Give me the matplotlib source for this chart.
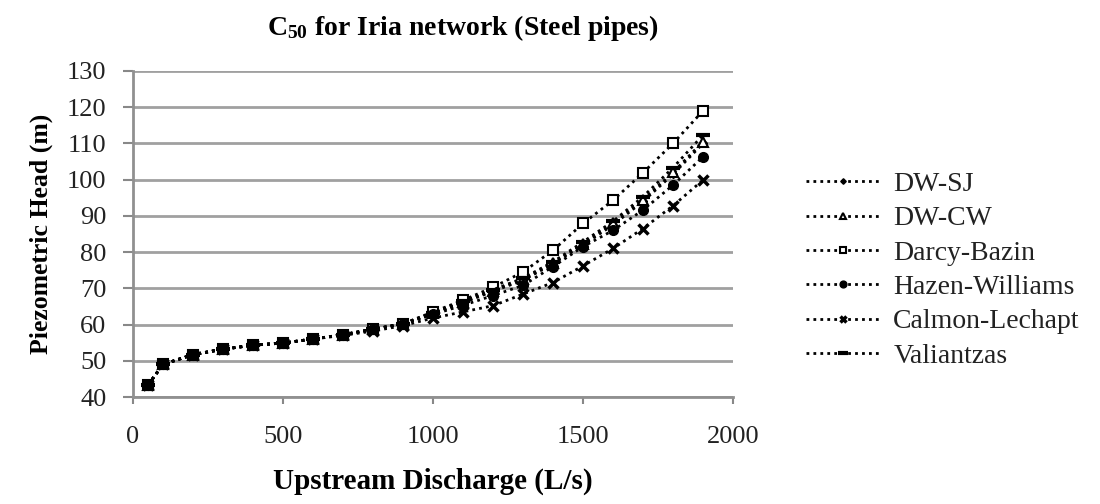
import matplotlib
matplotlib.use("Agg")
import matplotlib.pyplot as plt

discharge = [50, 100, 200, 300, 400, 500, 600, 700, 800, 900,
             1000, 1100, 1200, 1300, 1400, 1500, 1600, 1700, 1800, 1900]
common = [43.3, 49.0, 51.7, 53.2, 54.3, 54.9, 56.0, 57.2, 58.7, 60.2]

dw_sj = common + [63.0, 66.0, 69.2, 72.2, 76.8, 82.0, 87.5, 94.0, 101.5, 110.0]
dw_cw = common + [63.1, 66.2, 69.4, 72.5, 77.0, 82.3, 88.0, 94.5, 102.0, 110.5]
darcy_bazin = common + [63.5, 66.7, 70.3, 74.5, 80.5, 87.9, 94.3, 101.9, 110.0, 119.0]
hazen_williams = common + [62.8, 65.3, 68.0, 70.8, 76.0, 81.5, 86.0, 91.6, 98.5, 106.3]
calmon_lechapt = [43.3, 49.0, 51.7, 53.2, 54.3, 54.9, 56.0, 57.0, 58.2, 59.7,
                  61.8, 63.5, 65.2, 68.4, 71.6, 76.2, 81.0, 86.5, 92.8, 99.9]
valiantzas = common + [63.3, 66.4, 69.6, 72.8, 77.3, 82.8, 88.5, 95.3, 103.3, 112.3]

series_names = ["DW-SJ", "DW-CW", "Darcy-Bazin", "Hazen-Williams", "Calmon-Lechapt", "Valiantzas"]
series_values = [dw_sj, dw_cw, darcy_bazin, hazen_williams, calmon_lechapt, valiantzas]

x_ticks = [0, 500, 1000, 1500, 2000]
y_ticks = [40, 50, 60, 70, 80, 90, 100, 110, 120, 130]

plt.rcParams['font.family'] = ['Liberation Serif', 'DejaVu Serif']
plt.rcParams['mathtext.fontset'] = 'custom'
plt.rcParams['mathtext.rm'] = 'Liberation Serif'
plt.rcParams['mathtext.bf'] = 'Liberation Serif:bold'
plt.rcParams['mathtext.it'] = 'Liberation Serif:italic'

fig = plt.figure(figsize=(11, 5.04), dpi=100)
ax = fig.add_axes([133/1100, 1-397/504, 600/1100, 326/504])

styles = [
    dict(marker='D', markersize=4, markerfacecolor='black', markeredgecolor='black'),
    dict(marker='^', markersize=7, markerfacecolor='white', markeredgecolor='black', markeredgewidth=1.5),
    dict(marker='s', markersize=7, markerfacecolor='white', markeredgecolor='black', markeredgewidth=1.5),
    dict(marker='o', markersize=7, markerfacecolor='black', markeredgecolor='black'),
    dict(marker='x', markersize=7, markeredgecolor='black', markeredgewidth=2.5),
    dict(marker='_', markersize=10, markeredgecolor='black', markeredgewidth=3),
]

for name, vals, st in zip(series_names, series_values, styles):
    ax.plot(discharge, vals, linestyle=(0, (1, 1.5)), linewidth=2, color='black', label=name, **st)

ax.set_xlim(0, 2000)
ax.set_ylim(40, 130)
ax.set_xticks(x_ticks)
ax.set_yticks(y_ticks)
ax.tick_params(axis='both', labelsize=19, colors='#888888', labelcolor='#222222', width=1.5)
ax.tick_params(axis='y', length=7, pad=12)
ax.tick_params(axis='x', length=5, pad=16)
ax.yaxis.grid(True, color='#a0a0a0', linewidth=2)
ax.set_axisbelow(True)
for s in ['top', 'right']:
    ax.spines[s].set_visible(False)
for s in ['left', 'bottom']:
    ax.spines[s].set_color('#909090')
    ax.spines[s].set_linewidth(2)

ax.set_xlabel("Upstream Discharge (L/s)", fontsize=21, fontweight='bold', labelpad=14)
ax.set_ylabel("Piezometric Head (m)", fontsize=18.5, fontweight='bold', labelpad=10)

fig.text(463/1100, 1-28/504, r"C$_{\mathbf{50}}$ for Iria network (Steel pipes)",
         ha='center', va='center', fontsize=20, fontweight='bold')

leg = ax.legend(loc='center left', bbox_to_anchor=(806/1100, 1-270/504),
                bbox_transform=fig.transFigure, frameon=False, fontsize=20,
                handlelength=2.67, handletextpad=0.47, labelspacing=0.32,
                borderpad=0, borderaxespad=0, markerscale=0.7)
for t in leg.get_texts():
    t.set_color('#222222')

fig.savefig("out.png", dpi=100)
